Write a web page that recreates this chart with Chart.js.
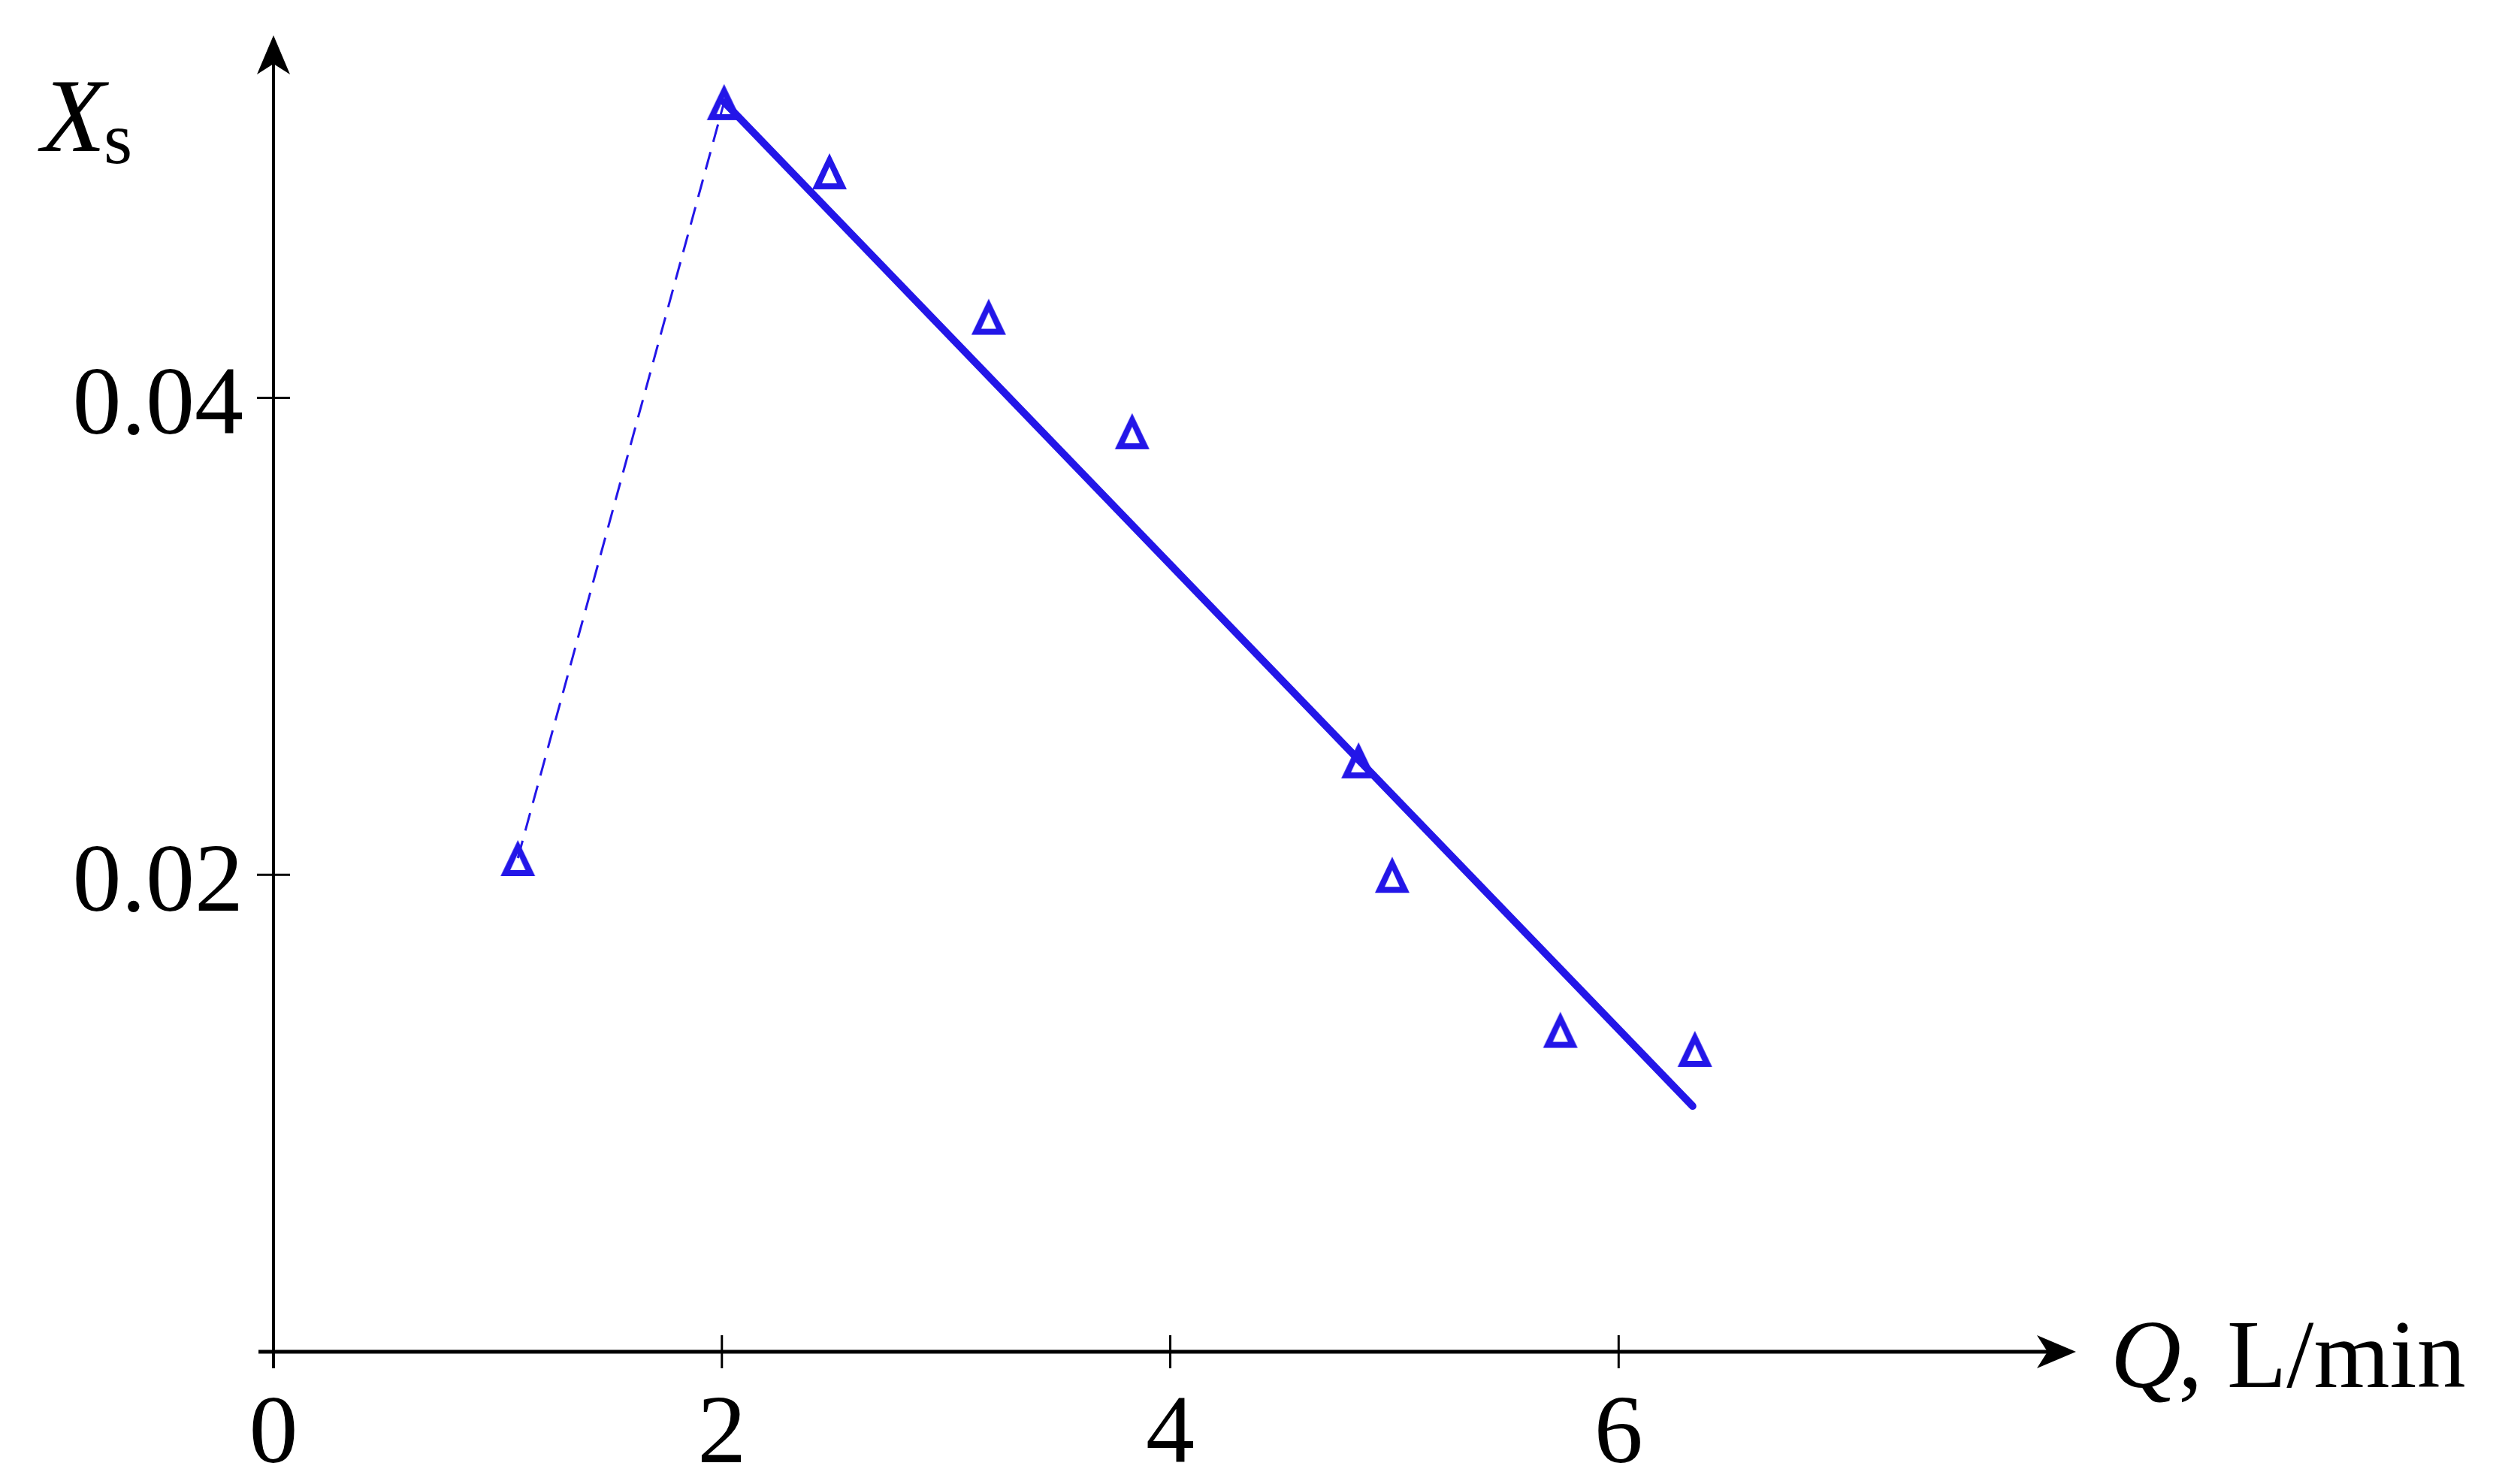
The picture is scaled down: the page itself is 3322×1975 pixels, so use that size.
<!DOCTYPE html>
<html>
<head>
<meta charset="utf-8">
<script src="https://cdn.jsdelivr.net/npm/chart.js@4.4.0/dist/chart.umd.min.js"></script>
<style>
    html, body { margin: 0; padding: 0; background: #fff; }
    canvas { display: block; }
</style>
</head>
<body>
<canvas id="xs-chart" width="3322" height="1975"></canvas>
<script>
// Dados (Q em L/min, Xs adimensional)
const qValues  = [1.09, 2.01, 2.48, 3.19, 3.83, 4.84, 4.99, 5.74, 6.34];
const xsValues = [0.0207, 0.0524, 0.0495, 0.0434, 0.0386, 0.0248, 0.0200, 0.0135, 0.0127];

// Reta de ajuste (trecho descendente)
const fitQ  = [2.01, 6.33];
const fitXs = [0.0524, 0.0103];

// Trecho tracejado (subida)
const dashQ  = [1.09, 2.01];
const dashXs = [0.0207, 0.0524];

// Ticks
const xTicks = [0, 2, 4, 6];
const xTickLabels = ['0', '2', '4', '6'];
const yTicks = [0.02, 0.04];
const yTickLabels = ['0.02', '0.04'];

const BLUE = 'rgb(35, 22, 232)';
const SERIF = '"Liberation Serif", "Times New Roman", serif';

const getEl = (id) => document.getElementById(id);
const toPoints = (xs, ys) => xs.map((x, i) => ({ x, y: ys[i] }));

// Marcador: triângulo vazado
const makeTriangle = () => {
    const c = document.createElement('canvas');
    c.width = 50;
    c.height = 52;
    const g = c.getContext('2d');
    g.fillStyle = BLUE;
    g.beginPath();
    g.moveTo(25, 2); g.lineTo(2, 50); g.lineTo(48, 50); g.closePath();
    g.moveTo(25, 20); g.lineTo(15, 42); g.lineTo(35, 42); g.closePath();
    g.fill('evenodd');
    return c;
};

// Eixos com setas, ticks cruzando o eixo e rótulos
const axesPlugin = {
    id: 'axesPlugin',
    beforeDatasetsDraw(chart) {
        const { ctx, chartArea, scales: { x, y } } = chart;
        const x0 = x.getPixelForValue(0);
        const y0 = y.getPixelForValue(0);
        const tipX = chartArea.right;
        const tipY = chartArea.top;

        ctx.save();
        ctx.strokeStyle = '#000';
        ctx.fillStyle = '#000';

        // eixo x
        ctx.lineWidth = 5;
        ctx.beginPath();
        ctx.moveTo(x0 - 20, y0);
        ctx.lineTo(tipX - 30, y0);
        ctx.stroke();
        // eixo y
        ctx.lineWidth = 4;
        ctx.beginPath();
        ctx.moveTo(x0, y0 + 22);
        ctx.lineTo(x0, tipY + 30);
        ctx.stroke();

        // setas
        ctx.beginPath();
        ctx.moveTo(tipX, y0);
        ctx.lineTo(tipX - 52, y0 - 22);
        ctx.lineTo(tipX - 38, y0);
        ctx.lineTo(tipX - 52, y0 + 22);
        ctx.closePath();
        ctx.fill();

        ctx.beginPath();
        ctx.moveTo(x0, tipY);
        ctx.lineTo(x0 - 22, tipY + 52);
        ctx.lineTo(x0, tipY + 38);
        ctx.lineTo(x0 + 22, tipY + 52);
        ctx.closePath();
        ctx.fill();

        // ticks
        ctx.lineWidth = 3;
        xTicks.forEach(v => {
            const px = x.getPixelForValue(v);
            ctx.beginPath();
            ctx.moveTo(px, y0 - 22);
            ctx.lineTo(px, y0 + 22);
            ctx.stroke();
        });
        yTicks.forEach(v => {
            const py = y.getPixelForValue(v);
            ctx.beginPath();
            ctx.moveTo(x0 - 22, py);
            ctx.lineTo(x0 + 22, py);
            ctx.stroke();
        });

        // rótulos dos ticks
        ctx.font = `130px ${SERIF}`;
        ctx.textBaseline = 'alphabetic';
        ctx.textAlign = 'center';
        xTicks.forEach((v, i) => {
            ctx.fillText(xTickLabels[i], x.getPixelForValue(v), y0 + 147);
        });
        ctx.textAlign = 'right';
        yTicks.forEach((v, i) => {
            ctx.fillText(yTickLabels[i], x0 - 40, y.getPixelForValue(v) + 48);
        });

        // título do eixo y: X (itálico) com subscrito s
        ctx.textAlign = 'left';
        ctx.font = `italic 140px ${SERIF}`;
        ctx.fillText('X', 55, 201);
        ctx.font = `98px ${SERIF}`;
        ctx.fillText('s', 138, 217);

        // título do eixo x: Q, L/min
        const qx = tipX + 46;
        const base = y0 + 47;
        ctx.font = `italic 130px ${SERIF}`;
        ctx.fillText('Q', qx, base);
        const qw = ctx.measureText('Q').width;
        ctx.font = `130px ${SERIF}`;
        ctx.fillText(', L/min', qx + qw - 4, base);

        ctx.restore();
    }
};

const createChart = () => {
    const ctx = getEl('xs-chart').getContext('2d');

    new Chart(ctx, {
        type: 'scatter',
        data: {
            datasets: [
                {
                    label: 'tracejado',
                    data: toPoints(dashQ, dashXs),
                    showLine: true,
                    borderColor: BLUE,
                    borderWidth: 3,
                    borderDash: [24, 14],
                    pointRadius: 0,
                    clip: false
                },
                {
                    label: 'ajuste',
                    data: toPoints(fitQ, fitXs),
                    showLine: true,
                    borderColor: BLUE,
                    borderWidth: 10,
                    borderCapStyle: 'round',
                    pointRadius: 0,
                    clip: false
                },
                {
                    label: 'medidas',
                    data: toPoints(qValues, xsValues),
                    showLine: false,
                    pointStyle: makeTriangle(),
                    pointRadius: 25,
                    clip: false
                }
            ]
        },
        options: {
            responsive: false,
            animation: false,
            devicePixelRatio: 1,
            layout: { padding: { left: 364, right: 559, top: 47, bottom: 176 } },
            plugins: { legend: { display: false }, tooltip: { enabled: false } },
            scales: {
                x: { type: 'linear', min: 0, max: 8.04, display: false },
                y: { type: 'linear', min: 0, max: 0.0552, display: false }
            }
        },
        plugins: [axesPlugin]
    });
};

createChart();
</script>
</body>
</html>
